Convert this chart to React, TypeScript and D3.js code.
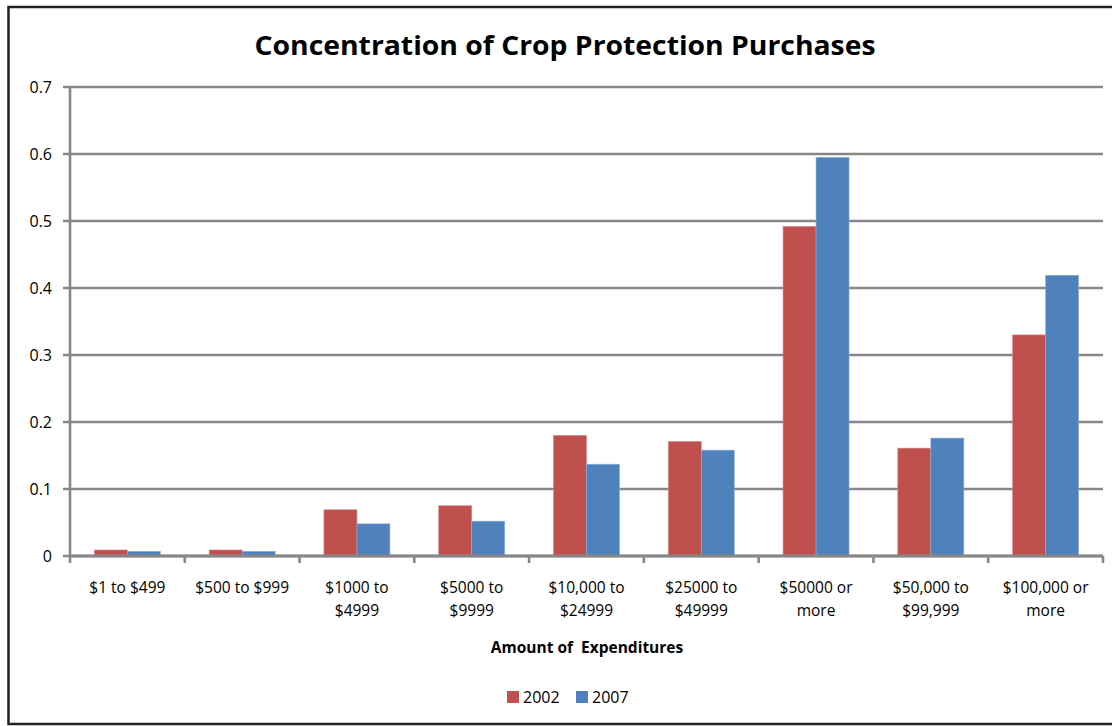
import React from "react";
import * as d3 from "d3";

const categories: string[][] = [
  ["$1 to $499"],
  ["$500 to $999"],
  ["$1000 to", "$4999"],
  ["$5000 to", "$9999"],
  ["$10,000 to", "$24999"],
  ["$25000 to", "$49999"],
  ["$50000 or", "more"],
  ["$50,000 to", "$99,999"],
  ["$100,000 or", "more"],
];
const values2002 = [0.009, 0.009, 0.069, 0.075, 0.18, 0.171, 0.492, 0.161, 0.33];
const values2007 = [0.007, 0.007, 0.048, 0.052, 0.137, 0.158, 0.595, 0.176, 0.419];
const yTicks = [0, 0.1, 0.2, 0.3, 0.4, 0.5, 0.6, 0.7];
const seriesNames = ["2002", "2007"];
const colors = ["#C0504D", "#4F81BD"];

const W = 1112;
const H = 726;
const left = 70;
const right = 1103;
const top = 87;
const bottom = 556;
const font = "'Open Sans', 'DejaVu Sans', sans-serif";

export default function App() {
  const idx = categories.map((_, i) => String(i));
  const x0 = d3.scaleBand<string>().domain(idx).range([left, right]).paddingInner(0).paddingOuter(0);
  const bw = x0.bandwidth();
  const groupW = bw * 0.575;
  const x1 = d3.scaleBand<string>().domain(seriesNames).range([0, groupW]);
  const y = d3.scaleLinear().domain([0, 0.7]).range([bottom, top]);
  const series = [values2002, values2007];
  const grid = "#878787";
  const boundaries = d3.range(categories.length + 1).map((i) => left + i * bw);

  return (
    <svg
      width={W}
      height={H}
      style={{ position: "absolute", left: 0, top: 0, background: "#fff" }}
    >
      <rect x={0} y={0} width={W} height={H} fill="#fff" />
      <rect x={8.5} y={7} width={W + 20} height={717} fill="none" stroke="#222" strokeWidth={2.5} />
      <text
        x={565}
        y={55}
        textAnchor="middle"
        fontFamily={font}
        fontWeight="bold"
        fontSize={27.5}
        textLength={621}
        lengthAdjust="spacingAndGlyphs"
        fill="#000"
      >
        Concentration of Crop Protection Purchases
      </text>
      {yTicks.map((t) => (
        <g key={t}>
          <line x1={63} x2={right} y1={y(t)} y2={y(t)} stroke={grid} strokeWidth={2.6} />
          <text
            x={52}
            y={y(t)}
            dy="0.35em"
            textAnchor="end"
            fontFamily={font}
            fontSize={16}
            fill="#000"
          >
            {t === 0 ? "0" : String(t)}
          </text>
        </g>
      ))}
      <line x1={left} x2={left} y1={top} y2={bottom} stroke={grid} strokeWidth={2.6} />
      {boundaries.map((bx, i) => (
        <line key={i} x1={bx} x2={bx} y1={bottom} y2={bottom + 7} stroke={grid} strokeWidth={2.6} />
      ))}
      {categories.map((c, i) => {
        const gx = (x0(String(i)) as number) + (bw - groupW) / 2;
        return (
          <g key={i}>
            {series.map((s, k) => (
              <rect
                key={k}
                x={gx + (x1(seriesNames[k]) as number)}
                y={y(s[i])}
                width={x1.bandwidth()}
                height={bottom - y(s[i])}
                fill={colors[k]}
                stroke={k === 0 ? "#d98885" : "#8fb0da"}
                strokeWidth={0.6}
              />
            ))}
          </g>
        );
      })}
      <line x1={left} x2={right} y1={bottom} y2={bottom} stroke={grid} strokeWidth={2.8} />
      {categories.map((c, i) => (
        <text
          key={i}
          x={(x0(String(i)) as number) + bw / 2}
          y={593}
          textAnchor="middle"
          fontFamily={font}
          fontSize={15.5}
          fill="#000"
        >
          {c.map((line, j) => (
            <tspan key={j} x={(x0(String(i)) as number) + bw / 2} dy={j === 0 ? 0 : 23}>
              {line}
            </tspan>
          ))}
        </text>
      ))}
      <text
        x={587}
        y={653}
        textAnchor="middle"
        fontFamily={font}
        fontWeight="bold"
        fontSize={15.5}
        fill="#000"
        xmlSpace="preserve"
      >
        Amount of  Expenditures
      </text>
      {seriesNames.map((n, k) => (
        <g key={n} transform={`translate(${507 + k * 69},691)`}>
          <rect x={0} y={0} width={12} height={12} fill={colors[k]} />
          <text x={16} y={12} fontFamily={font} fontSize={16} fill="#000">
            {n}
          </text>
        </g>
      ))}
    </svg>
  );
}
